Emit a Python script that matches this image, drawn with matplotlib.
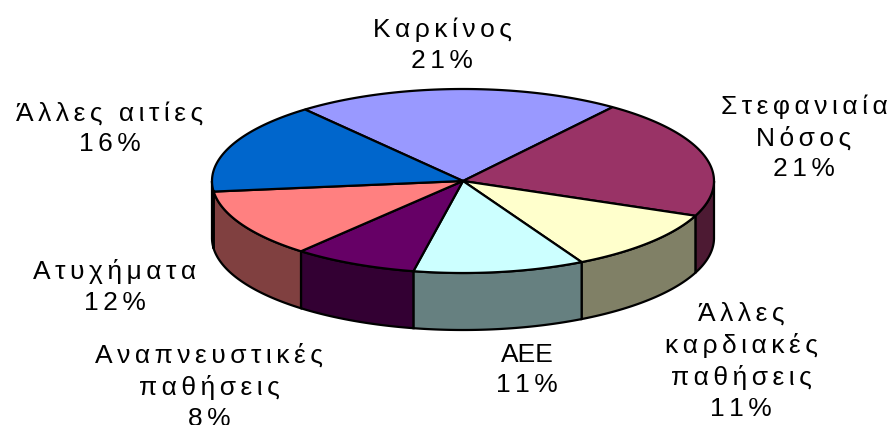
# 3D style pie chart, causes of death
import numpy as np
import matplotlib
matplotlib.use('Agg')
import matplotlib.pyplot as plt
from matplotlib.patches import Polygon
from matplotlib.colors import to_rgb

# the data
labels = ['Καρκίνος', 'Στεφανιαία\nΝόσος', 'Άλλες\nκαρδιακές\nπαθήσεις', 'ΑΕΕ',
          'Αναπνευστικές\nπαθήσεις', 'Ατυχήματα', 'Άλλες αιτίες']
values = [21, 21, 11, 11, 8, 12, 16]
colors = ['#9999FF', '#993366', '#FFFFCC', '#CCFFFF', '#660066', '#FF8080', '#0066CC']
label_x = [442, 804, 741, 527, 209, 115, 110]
label_y = [45, 138, 361, 370, 387, 287, 129]

cx, cy = 463, 181
a, b = 251, 92
depth = 57
start = -39
gap = '\u200a\u200a'

plt.rcParams['font.family'] = ['Liberation Sans', 'DejaVu Sans']
fig = plt.figure(figsize=(8.96, 4.25), dpi=100)
ax = fig.add_axes([0, 0, 1, 1])
ax.set_xlim(0, 896)
ax.set_ylim(425, 0)
ax.axis('off')

def rim(t1, t2, dy=0):
    t = np.radians(np.linspace(t1, t2, 80))
    return np.column_stack([cx + a * np.sin(t), cy - b * np.cos(t) + dy])

edges = start + np.cumsum([0] + values) * 3.6

# side walls first, only the front half is visible
for i in range(len(values)):
    t1, t2 = max(edges[i], 90), min(edges[i + 1], 270)
    if t2 > t1:
        pts = np.vstack([rim(t1, t2), rim(t2, t1, depth)])
        side = tuple(c * 0.5 for c in to_rgb(colors[i]))
        ax.add_patch(Polygon(pts, closed=True, fc=side, ec='black', lw=1.6))

# then the top
for i in range(len(values)):
    pts = np.vstack([[cx, cy], rim(edges[i], edges[i + 1])])
    ax.add_patch(Polygon(pts, closed=True, fc=colors[i], ec='black', lw=1.6))

# labels, letters are spread out in the original
for i in range(len(values)):
    txt = labels[i]
    if txt != 'ΑΕΕ':
        txt = gap.join(txt).replace(gap + '\n' + gap, '\n')
    pct = gap.join(str(values[i]) + '%')
    ax.text(label_x[i], label_y[i], txt + '\n' + pct, ha='center', va='center',
            fontsize=19, color='black', linespacing=1.36, clip_on=True)

plt.savefig('out.png', dpi=100)
